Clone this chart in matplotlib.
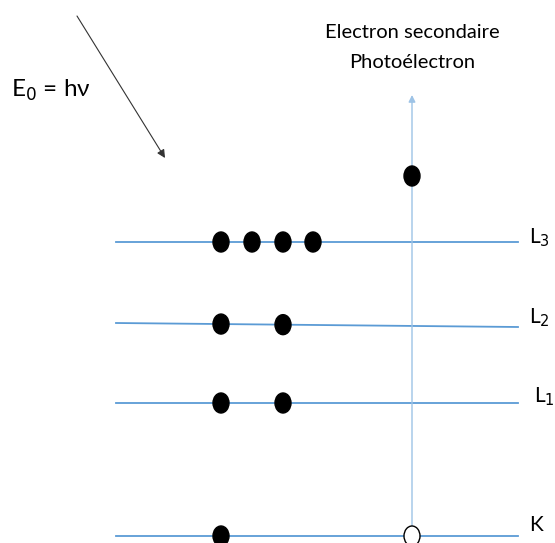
import matplotlib.pyplot as plt
from matplotlib.patches import Ellipse

plt.rcParams['font.family'] = ['Lato', 'DejaVu Sans']

# energy levels (y in picture pixels, left and right ends)
levels = ["L$_3$", "L$_2$", "L$_1$", "K"]
level_y_left = [242, 323, 403, 536]
level_y_right = [242, 327, 403, 536]
label_pos = [(529, 238), (529, 318), (534, 397), (529, 525)]

# electrons on each level (x in picture pixels)
electrons_x = [[221, 252, 283, 313], [221, 283], [221, 283], [221]]

x_start, x_end = 116, 518
x_vert = 412
photo_y = 176

fig = plt.figure(figsize=(5.55, 5.43), dpi=100)
ax = fig.add_axes([0, 0, 1, 1])
ax.set_xlim(0, 555)
ax.set_ylim(543, 0)
ax.axis("off")

blue = "#5B9BD5"

for yl, yr in zip(level_y_left, level_y_right):
    ax.plot([x_start, x_end], [yl, yr], color=blue, lw=1.3, zorder=1)

for lab, (lx, ly) in zip(levels, label_pos):
    ax.text(lx, ly, lab, fontsize=15, ha="left", va="center", color="black")

# electrons
for xs, yl, yr in zip(electrons_x, level_y_left, level_y_right):
    for x in xs:
        y = yl + (yr - yl) * (x - x_start) / (x_end - x_start)
        ax.add_patch(Ellipse((x, y), 16, 20, color="black", zorder=3))

# ejected photoelectron path
ax.annotate("", xy=(x_vert, 95), xytext=(x_vert, level_y_left[-1]),
            arrowprops=dict(arrowstyle="-|>", color="#9DC3E6", lw=1.0,
                            mutation_scale=10, shrinkA=0, shrinkB=0), zorder=2)
ax.add_patch(Ellipse((x_vert, photo_y), 16, 20, color="black", zorder=3))
ax.add_patch(Ellipse((x_vert, level_y_left[-1]), 16, 20, facecolor="white",
                     edgecolor="black", lw=1.0, zorder=3))

ax.text(x_vert, 32, "Electron secondaire", fontsize=14.5, ha="center", va="center")
ax.text(x_vert, 62, "Photoélectron", fontsize=14.5, ha="center", va="center")

# incoming photon
ax.annotate("", xy=(165, 158), xytext=(77, 16),
            arrowprops=dict(arrowstyle="-|>", color="#333333", lw=0.8,
                            mutation_scale=12, shrinkA=0, shrinkB=0))
ax.text(11, 90, "E$_0$ = hν", fontsize=17.5, ha="left", va="center")

fig.savefig("out.png", dpi=100)
